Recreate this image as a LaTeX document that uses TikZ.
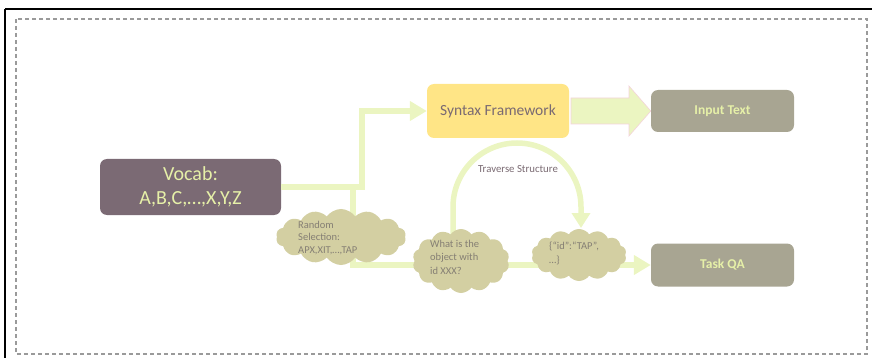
\documentclass[tikz,border=0pt]{standalone}
\usepackage{fontspec}
\setmainfont{Carlito}
\usetikzlibrary{shapes.symbols,arrows.meta}
\definecolor{linkgreen}{HTML}{EBF5C1}
\definecolor{vocabfill}{HTML}{7B6A74}
\definecolor{paletext}{HTML}{E6F0A8}
\definecolor{syntaxfill}{HTML}{FFE586}
\definecolor{mauvetext}{HTML}{7A6A72}
\definecolor{olivefill}{HTML}{A8A592}
\definecolor{cloudfill}{HTML}{D3CFA2}
\definecolor{cloudtext}{HTML}{857F74}
\definecolor{framegray}{HTML}{9A9A9A}
\definecolor{pinkedge}{HTML}{F3D3DA}
\begin{document}
\begin{tikzpicture}[x=1pt,y=-1pt,
  box/.style={rectangle, rounded corners=7pt, inner sep=0pt, align=center},
  vocabbox/.style={box, fill=vocabfill, text=paletext, font=\fontsize{20}{24}\selectfont},
  syntaxbox/.style={box, fill=syntaxfill, text=mauvetext, font=\fontsize{15.5}{18}\selectfont},
  targetbox/.style={box, fill=olivefill, text=paletext, font=\fontsize{13.5}{16}\selectfont\bfseries},
  puff/.style={cloud, cloud puffs=14, cloud puff arc=110, cloud ignores aspect, fill=cloudfill, inner sep=0pt},
  puffnote/.style={text=cloudtext, align=left, inner sep=0pt},
  conn/.style={draw=linkgreen, line width=5.5pt},
  tip/.style={-{Triangle[length=17pt,width=19pt]}}
]
\useasboundingbox (0,0) rectangle (872,358);

% outer frame and dashed panel
\draw[line width=1.2pt] (5,9) -- (872,9);
\draw[line width=1.2pt] (5,9) -- (5,358);
\draw[framegray, line width=1.1pt, dash pattern=on 4pt off 3pt] (16,19) rectangle (867,354);

% boxes
\node[vocabbox, minimum width=181pt, minimum height=56pt] (vocab) at (190.5,187) {Vocab:\\A,B,C,\dots,X,Y,Z};
\node[syntaxbox, minimum width=142pt, minimum height=54pt] (syntax) at (498,111) {Syntax Framework};
\node[targetbox, minimum width=143pt, minimum height=42pt] (input) at (722.5,111) {Input Text};
\node[targetbox, minimum width=143pt, minimum height=43pt] (task) at (722.5,265) {Task QA};

% connectors from the vocabulary
\coordinate (split) at (353,187);
\draw[conn] (vocab.east) -- (split);
\draw[conn, tip] (split) -- (362,187) |- (syntax.west);
\draw[conn, tip] (split) |- (task.west);

% block arrow from the framework to the input text
\draw[pinkedge, fill=linkgreen, line width=0.6pt]
  (571,98) -- (629,98) -- (629,86) -- (input.west) -- (629,136) -- (629,124) -- (571,124) -- cycle;

% clouds
\node[puff, minimum width=130pt, minimum height=56pt] (rand) at (341,237) {};
\node[puffnote, font=\fontsize{10.5}{12.5}\selectfont, anchor=north west] at (298,221) {Random\\Selection:\\APX,XIT,\dots,TAP};

% traverse arc
\coordinate (arcstart) at (453,240);
\coordinate (arcend) at (581,228);
\draw[conn, -{Triangle[length=15pt,width=18pt]}] (arcstart) -- (453,207) arc[start angle=180, end angle=0, radius=64pt] -- (arcend);
\node[text=mauvetext, font=\fontsize{10.8}{12}\selectfont] (trav) at (518,169) {Traverse Structure};

\node[puff, minimum width=97pt, minimum height=64pt] (what) at (461,261) {};
\node[puffnote, font=\fontsize{10.5}{13.5}\selectfont, anchor=north west] at (430,240) {What is the\\object with\\id XXX?};

\node[puff, minimum width=95pt, minimum height=52pt] (idc) at (579,255) {};
\node[puffnote, font=\fontsize{10.5}{13.5}\selectfont, anchor=north west] at (549,242) {\{“id”:“TAP”,\\\dots\}};
\end{tikzpicture}
\end{document}
